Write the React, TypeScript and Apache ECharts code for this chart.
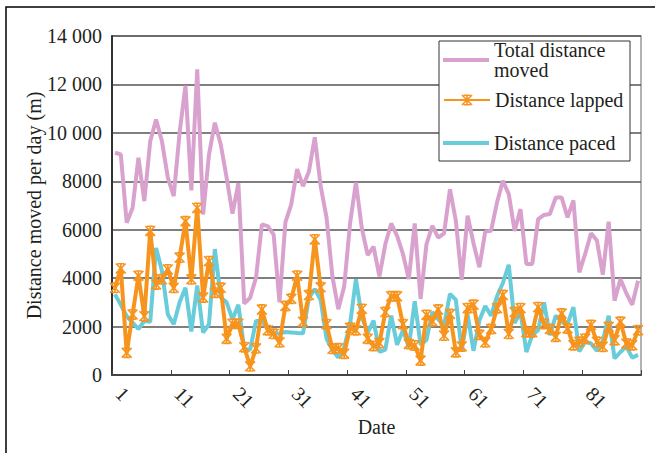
import React, { useEffect, useRef } from "react";
import * as echarts from "echarts";

const days: string[] = Array.from({ length: 90 }, (_, i) => String(i + 1));

const totalMoved: number[] = [
  9180, 9110, 6290, 6900, 8970, 7180, 9650, 10550, 9650, 8150,
  7390, 10000, 11950, 7620, 12620, 6630, 9100, 10420, 9520, 8150,
  6660, 7920, 2950, 3190, 4020, 6220, 6150, 5800, 3000, 6300,
  7050, 8500, 7800, 8400, 9820, 7800, 6500, 4070, 2720, 3650,
  6260, 7950, 6060, 4950, 5300, 4070, 5400, 6260, 5750, 5000,
  3960, 6260, 3140, 5400, 6160, 5670, 5850, 7670, 6370, 3930,
  6580, 5440, 4450, 5920, 5960, 7120, 8020, 7470, 5950, 6850,
  4580, 4580, 6440, 6610, 6650, 7330, 7330, 6510, 7210, 4240,
  5000, 5850, 5550, 4140, 6330, 3070, 3960, 3380, 2900, 3890,
];

const lapped: number[] = [
  3600, 4400, 920, 2500, 4100, 2430, 5950, 3740, 3950, 4360,
  3600, 4850, 6350, 3950, 6900, 3200, 4700, 3400, 3600, 1500,
  2120, 2120, 1150, 360, 1100, 2700, 1850, 1700, 1350, 2850,
  3150, 4100, 2200, 3300, 5600, 3620, 2100, 1080, 1100, 880,
  1950, 1850, 2730, 1500, 1200, 1320, 2600, 3250, 3250, 2100,
  1280, 1220, 600, 2480, 2220, 2700, 1630, 2520, 940, 1180,
  2760, 2900, 1660, 1350, 1900, 2760, 3300, 1700, 2600, 2760,
  1770, 1770, 2800, 2110, 1900, 1580, 2540, 1920, 1230, 1370,
  1500, 2060, 1370, 1170, 1990, 1440, 2200, 1300, 1230, 1850,
];

const paced: number[] = [
  3330, 2900, 2430, 2160, 1900, 2230, 2200, 5250, 4300, 2500,
  2100, 3000, 3600, 1800, 3700, 1750, 2100, 5200, 3200, 3000,
  2300, 2900, 1050, 1050, 2230, 2230, 1900, 1750, 1700, 1780,
  1760, 1730, 1720, 3200, 3550, 3100, 1500, 1030, 720, 1150,
  2100, 3950, 2400, 1750, 2250, 950, 1050, 2450, 1250, 1850,
  1150, 3050, 1250, 1450, 2600, 2300, 2050, 3350, 3100, 1000,
  2500, 1000, 2250, 2850, 2450, 3250, 3800, 4550, 2150, 2600,
  950, 1650, 1850, 3000, 1650, 2450, 2200, 2100, 2800, 970,
  1380, 1300, 1000, 1400, 2450, 680, 950, 1180, 720, 830,
];

const yTicks: number[] = [0, 2000, 4000, 6000, 8000, 10000, 12000, 14000];

const FONT = "'Liberation Serif', 'Times New Roman', serif";
const PINK = "#D9A2CE";
const ORANGE = "#F7941D";
const CYAN = "#68CCDA";

const STAR =
  "path://M8.5 0 H11.5 V20 H8.5 Z M2.1 0 L20 17.9 L17.9 20 L0 2.1 Z M17.9 0 L20 2.1 L2.1 20 L0 17.9 Z M4 0 H16 V3 H4 Z M4 17 H16 V20 H4 Z";

export default function App() {
  const ref = useRef<HTMLDivElement>(null);

  useEffect(() => {
    if (!ref.current) return;
    const chart = echarts.init(ref.current, undefined, { renderer: "svg" });
    const legendText = {
      fontFamily: FONT,
      fontSize: 20,
      color: "#231F20",
      lineHeight: 20,
    };
    const legendBase = {
      orient: "vertical" as const,
      left: 443,
      padding: 0,
      itemWidth: 46,
      itemGap: 0,
      textStyle: legendText,
      z: 20,
      selectedMode: false,
    };
    chart.setOption({
      animation: false,
      backgroundColor: "#ffffff",
      textStyle: { fontFamily: FONT },
      grid: {
        left: 112,
        right: 14,
        top: 36,
        bottom: 78,
        show: true,
        borderColor: "#9a9a9a",
        borderWidth: 1.5,
        backgroundColor: "transparent",
      },
      legend: [
        {
          ...legendBase,
          top: 40,
          itemHeight: 4,
          icon: "rect",
          data: ["Total distance moved"],
          formatter: () => "Total distance\nmoved",
        },
        { ...legendBase, top: 90, itemHeight: 14, data: ["Distance lapped"] },
        {
          ...legendBase,
          top: 133,
          itemHeight: 4,
          icon: "rect",
          data: ["Distance paced"],
        },
      ],
      graphic: [
        {
          type: "rect",
          z: 10,
          shape: { x: 439, y: 41, width: 191, height: 120 },
          style: { fill: "#ffffff", stroke: "#333333", lineWidth: 1 },
        },
        {
          type: "polyline",
          z: 10,
          shape: { points: [[6, 453], [6, 7], [655, 7]] },
          style: { stroke: "#000000", lineWidth: 1.5, fill: "none" },
        },
      ],
      xAxis: {
        type: "category",
        data: days,
        boundaryGap: true,
        name: "Date",
        nameLocation: "middle",
        nameGap: 42,
        nameMoveOverlap: false,
        nameTextStyle: { fontFamily: FONT, fontSize: 20, color: "#231F20" },
        axisLine: { show: true, lineStyle: { color: "#444", width: 2 } },
        axisTick: {
          show: true,
          inside: true,
          length: 5,
          interval: 9,
          lineStyle: { color: "#444", width: 1 },
        },
        axisLabel: {
          interval: 9,
          rotate: -45,
          margin: 11,
          padding: [0, 0, 0, 6],
          fontFamily: FONT,
          fontSize: 20,
          color: "#231F20",
        },
        splitLine: { show: false },
      },
      yAxis: {
        type: "value",
        min: yTicks[0],
        max: yTicks[yTicks.length - 1],
        interval: 2000,
        name: "Distance moved per day (m)",
        nameLocation: "middle",
        nameGap: 68,
        nameMoveOverlap: false,
        nameTextStyle: { fontFamily: FONT, fontSize: 20, color: "#231F20" },
        axisLine: { show: true, lineStyle: { color: "#333", width: 2 } },
        axisTick: { show: false },
        axisLabel: {
          margin: 10,
          fontFamily: FONT,
          fontSize: 20,
          color: "#231F20",
          formatter: (v: number) =>
            v >= 10000 ? `${Math.floor(v / 1000)} 000` : String(v),
        },
        splitLine: { show: true, lineStyle: { color: "#555555", width: 1.5 } },
      },
      series: [
        {
          name: "Total distance moved",
          type: "line",
          data: totalMoved,
          symbol: "none",
          z: 2,
          lineStyle: { color: PINK, width: 4 },
          itemStyle: { color: PINK },
        },
        {
          name: "Distance lapped",
          type: "line",
          data: lapped,
          symbol: STAR,
          symbolSize: 11,
          showAllSymbol: true,
          z: 4,
          lineStyle: { color: ORANGE, width: 4 },
          itemStyle: { color: ORANGE },
        },
        {
          name: "Distance paced",
          type: "line",
          data: paced,
          symbol: "none",
          z: 3,
          lineStyle: { color: CYAN, width: 4 },
          itemStyle: { color: CYAN },
        },
      ],
    });
    return () => chart.dispose();
  }, []);

  return (
    <div
      ref={ref}
      style={{ position: "fixed", left: 0, top: 0, width: 655, height: 453 }}
    />
  );
}
